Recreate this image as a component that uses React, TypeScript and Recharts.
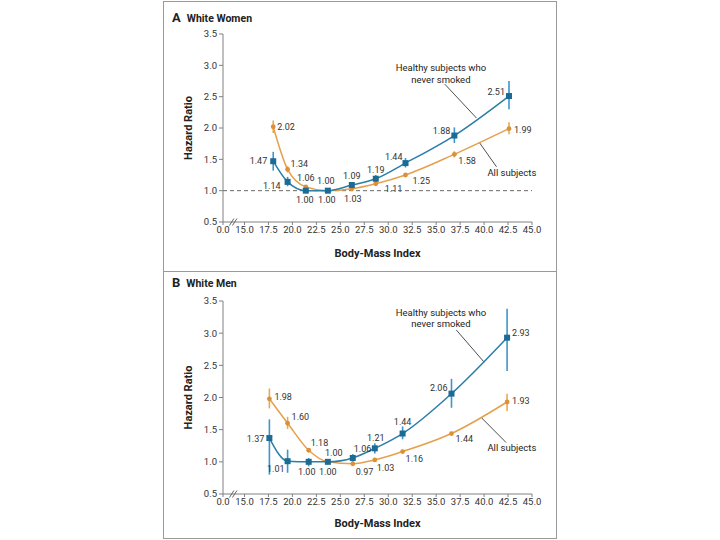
import React from "react";
import {
  ComposedChart,
  Line,
  XAxis,
  YAxis,
  ErrorBar,
  LabelList,
  Label,
  ReferenceLine,
  ReferenceDot,
} from "recharts";

// Panel A: white women
const bmiWomen = [18.0, 19.5, 21.4, 23.7, 26.2, 28.7, 31.8, 36.9, 42.6];
const hrWomenNever = [1.47, 1.14, 1.0, 1.0, 1.09, 1.19, 1.44, 1.88, 2.51];
const loWomenNever = [1.32, 1.07, 0.96, 1.0, 1.05, 1.13, 1.37, 1.76, 2.3];
const hiWomenNever = [1.62, 1.22, 1.04, 1.0, 1.13, 1.25, 1.52, 2.01, 2.75];
const hrWomenAll = [2.02, 1.34, 1.06, 1.0, 1.03, 1.11, 1.25, 1.58, 1.99];
const loWomenAll = [1.92, 1.29, 1.04, 1.0, 1.02, 1.09, 1.22, 1.53, 1.9];
const hiWomenAll = [2.12, 1.39, 1.08, 1.0, 1.04, 1.13, 1.28, 1.63, 2.09];

// Panel B: white men
const bmiMen = [17.6, 19.5, 21.7, 23.7, 26.3, 28.6, 31.5, 36.6, 42.4];
const hrMenNever = [1.37, 1.01, 1.0, 1.0, 1.06, 1.21, 1.44, 2.06, 2.93];
const loMenNever = [0.8, 0.83, 0.93, 1.0, 1.0, 1.13, 1.35, 1.84, 2.41];
const hiMenNever = [1.66, 1.19, 1.06, 1.0, 1.12, 1.29, 1.55, 2.29, 3.38];
const hrMenAll = [1.98, 1.6, 1.18, 1.0, 0.97, 1.03, 1.16, 1.44, 1.93];
const loMenAll = [1.83, 1.51, 1.15, 1.0, 0.96, 1.01, 1.13, 1.41, 1.79];
const hiMenAll = [2.14, 1.7, 1.21, 1.0, 0.98, 1.05, 1.19, 1.47, 2.06];

// axis ticks (first tick stands for the broken 0.0 origin)
const xOrigin = 12.76;
const xTicks = [xOrigin, 15, 17.5, 20, 22.5, 25, 27.5, 30, 32.5, 35, 37.5, 40, 42.5, 45];
const yTicks = [0.5, 1.0, 1.5, 2.0, 2.5, 3.0, 3.5];

const BLUE = "#2a7ea8";
const BLUE_DOT = "#1b6b95";
const BLUE_BAR = "#3f95c9";
const ORANGE = "#e6a04c";
const ORANGE_DOT = "#dc9038";
const ORANGE_BAR = "#eaa850";
const FONT = "Roboto, 'Liberation Sans', sans-serif";

// label placement: [dx, dy, anchor]
type Place = [number, number, "start" | "middle" | "end"];
const placeWomenNever: Place[] = [
  [-6, 0, "end"], [-7, 4, "end"], [-1, 9, "middle"], [-1, 9, "middle"], [0, -9, "middle"],
  [0, -9, "middle"], [-3, -6, "end"], [-4, -5, "end"], [-4, -4, "end"],
];
const placeWomenAll: Place[] = [
  [4, 0, "start"], [3, -5, "start"], [0, -9, "middle"], [-2, -10, "middle"], [1, 10, "middle"],
  [9, 5, "start"], [7, 6, "start"], [4, 7, "start"], [5, 1, "start"],
];
const placeMenNever: Place[] = [
  [-5, 1, "end"], [-3, 8, "end"], [-2, 10, "middle"], [0, 10, "middle"], [1, -9, "start"],
  [1, -10, "middle"], [0, -12, "middle"], [-4, -6, "end"], [5, -5, "start"],
];
const placeMenAll: Place[] = [
  [5, -2, "start"], [4, -6, "start"], [2, -7, "start"], [6, -9, "middle"], [3, 8, "start"],
  [2, 8, "start"], [3, 7, "start"], [4, 5, "start"], [5, -1, "start"],
];

function buildRows(
  bmi: number[],
  never: number[],
  neverLo: number[],
  neverHi: number[],
  all: number[],
  allLo: number[],
  allHi: number[]
) {
  return bmi.map((b, i) => ({
    bmi: b,
    never: never[i],
    neverErr: [never[i] - neverLo[i], neverHi[i] - never[i]],
    all: all[i],
    allErr: [all[i] - allLo[i], allHi[i] - all[i]],
  }));
}

const womenRows = buildRows(bmiWomen, hrWomenNever, loWomenNever, hiWomenNever, hrWomenAll, loWomenAll, hiWomenAll);
const menRows = buildRows(bmiMen, hrMenNever, loMenNever, hiMenNever, hrMenAll, loMenAll, hiMenAll);

const squareDot = (p: any) => (
  <rect key={`sq-${p.index}`} x={p.cx - 3} y={p.cy - 3} width={6} height={6} fill={BLUE_DOT} />
);
const roundDot = (p: any) => (
  <circle key={`rd-${p.index}`} cx={p.cx} cy={p.cy} r={2.4} fill={ORANGE_DOT} />
);

const valueLabel = (places: Place[]) => (p: any) => {
  const pl = places[p.index] || [0, -8, "middle"];
  return (
    <text
      x={p.x + pl[0]}
      y={p.y + pl[1]}
      textAnchor={pl[2]}
      dominantBaseline="central"
      fontSize={9}
      fill="#333"
    >
      {Number(p.value).toFixed(2)}
    </text>
  );
};

const twoLineNote = (p: any) => {
  const vb = p.viewBox;
  const cx = vb.x + (vb.width || 0) / 2;
  const cy = vb.y + (vb.height || 0) / 2;
  return (
    <text x={cx} y={cy} textAnchor="middle" fontSize={9.5} fill="#222">
      <tspan x={cx} dy={-2}>Healthy subjects who</tspan>
      <tspan x={cx} dy={11.5}>never smoked</tspan>
    </text>
  );
};

const oneLineNote = (p: any) => {
  const vb = p.viewBox;
  const cx = vb.x + (vb.width || 0) / 2;
  const cy = vb.y + (vb.height || 0) / 2;
  return (
    <text x={cx} y={cy} textAnchor="middle" dominantBaseline="central" fontSize={9.5} fill="#222">
      All subjects
    </text>
  );
};

const axisBreak = (p: any) => (
  <g>
    <line x1={p.cx - 4} y1={p.cy + 3.5} x2={p.cx + 0.5} y2={p.cy - 3.5} stroke="#555" strokeWidth={0.9} />
    <line x1={p.cx - 1} y1={p.cy + 3.5} x2={p.cx + 3.5} y2={p.cy - 3.5} stroke="#555" strokeWidth={0.9} />
  </g>
);

type PanelProps = {
  rows: any[];
  top: number;
  marginTop: number;
  marginBottom: number;
  xLabelDy: number;
  dashed: boolean;
  placeNever: Place[];
  placeAll: Place[];
  noteNever: { x: number; y: number };
  leadNever: { x: number; y: number }[];
  noteAll: { x: number; y: number };
  leadAll: { x: number; y: number }[];
};

function Panel(props: PanelProps) {
  return (
    <div style={{ position: "absolute", left: 0, top: props.top }}>
      <ComposedChart
        width={720}
        height={270}
        data={props.rows}
        margin={{ top: props.marginTop, right: 188, bottom: props.marginBottom, left: 173 }}
      >
        <XAxis
          type="number"
          dataKey="bmi"
          domain={[xOrigin, 45]}
          ticks={xTicks}
          interval={0}
          tickFormatter={(v: number) => (v < 14 ? "0.0" : v.toFixed(1))}
          tick={{ fontSize: 9.5, fill: "#333" }}
          tickSize={3}
          tickMargin={1}
          height={40}
          stroke="#808080"
        >
          <Label
            content={(p: any) => (
              <text
                x={p.viewBox.x + p.viewBox.width / 2}
                y={p.viewBox.y + props.xLabelDy}
                textAnchor="middle"
                fontSize={11}
                fontWeight="bold"
                fill="#222"
              >
                Body-Mass Index
              </text>
            )}
          />
        </XAxis>
        <YAxis
          type="number"
          domain={[0.5, 3.5]}
          ticks={yTicks}
          interval={0}
          tickFormatter={(v: number) => v.toFixed(1)}
          tick={{ fontSize: 9.5, fill: "#333" }}
          tickSize={4}
          tickMargin={2}
          width={50}
          stroke="#808080"
        >
          <Label
            content={(p: any) => {
              const x = p.viewBox.x + 15;
              const y = p.viewBox.y + p.viewBox.height / 2;
              return (
                <text
                  x={x}
                  y={y}
                  transform={`rotate(-90 ${x} ${y})`}
                  textAnchor="middle"
                  dominantBaseline="central"
                  fontSize={11}
                  fontWeight="bold"
                  fill="#222"
                >
                  Hazard Ratio
                </text>
              );
            }}
          />
        </YAxis>
        {props.dashed && (
          <ReferenceLine y={1} stroke="#444" strokeDasharray="4 3" strokeWidth={0.8} />
        )}
        <ReferenceDot x={13.85} y={0.5} r={0} shape={axisBreak} ifOverflow="visible" />
        <ReferenceLine segment={props.leadNever} stroke="#222" strokeWidth={0.8} ifOverflow="visible" />
        <ReferenceLine segment={props.leadAll} stroke="#222" strokeWidth={0.8} ifOverflow="visible" />
        <ReferenceDot x={props.noteNever.x} y={props.noteNever.y} r={0} ifOverflow="visible" label={twoLineNote} />
        <ReferenceDot x={props.noteAll.x} y={props.noteAll.y} r={0} ifOverflow="visible" label={oneLineNote} />
        <Line
          type="monotone"
          dataKey="all"
          stroke={ORANGE}
          strokeWidth={1.5}
          dot={roundDot}
          activeDot={false}
          isAnimationActive={false}
        >
          <ErrorBar dataKey="allErr" width={0} stroke={ORANGE_BAR} strokeWidth={1.6} direction="y" />
          <LabelList dataKey="all" content={valueLabel(props.placeAll)} />
        </Line>
        <Line
          type="monotone"
          dataKey="never"
          stroke={BLUE}
          strokeWidth={1.5}
          dot={squareDot}
          activeDot={false}
          isAnimationActive={false}
        >
          <ErrorBar dataKey="neverErr" width={0} stroke={BLUE_BAR} strokeWidth={1.6} direction="y" />
          <LabelList dataKey="never" content={valueLabel(props.placeNever)} />
        </Line>
      </ComposedChart>
    </div>
  );
}

export default function App() {
  return (
    <div
      style={{
        position: "absolute",
        left: 0,
        top: 0,
        width: 720,
        height: 540,
        background: "#fff",
        fontFamily: FONT,
        overflow: "hidden",
      }}
    >
      <div
        style={{
          position: "absolute",
          left: 163,
          top: 1,
          width: 394,
          height: 538,
          boxSizing: "border-box",
          border: "1px solid #9a9a9a",
        }}
      />
      <div
        style={{
          position: "absolute",
          left: 163,
          top: 271,
          width: 394,
          borderTop: "1px solid #9a9a9a",
        }}
      />
      <div style={{ position: "absolute", left: 172, top: 8, lineHeight: "17px", color: "#222", fontWeight: "bold" }}>
        <span style={{ fontSize: 13, marginRight: 6 }}>A</span>
        <span style={{ fontSize: 10.5 }}>White Women</span>
      </div>
      <div style={{ position: "absolute", left: 172, top: 273, lineHeight: "17px", color: "#222", fontWeight: "bold" }}>
        <span style={{ fontSize: 13, marginRight: 6 }}>B</span>
        <span style={{ fontSize: 10.5 }}>White Men</span>
      </div>
      <Panel
        rows={womenRows}
        top={0}
        marginTop={34}
        marginBottom={8}
        xLabelDy={35}
        dashed={true}
        placeNever={placeWomenNever}
        placeAll={placeWomenAll}
        noteNever={{ x: 35.5, y: 2.87 }}
        leadNever={[{ x: 35.9, y: 2.7 }, { x: 39.2, y: 2.16 }]}
        noteAll={{ x: 42.9, y: 1.29 }}
        leadAll={[{ x: 41.3, y: 1.38 }, { x: 39.5, y: 1.77 }]}
      />
      <Panel
        rows={menRows}
        top={270}
        marginTop={31}
        marginBottom={6}
        xLabelDy={33}
        dashed={false}
        placeNever={placeMenNever}
        placeAll={placeMenAll}
        noteNever={{ x: 35.5, y: 3.24 }}
        leadNever={[{ x: 37.1, y: 3.05 }, { x: 40.0, y: 2.55 }]}
        noteAll={{ x: 42.9, y: 1.23 }}
        leadAll={[{ x: 42.3, y: 1.3 }, { x: 39.7, y: 1.69 }]}
      />
    </div>
  );
}
